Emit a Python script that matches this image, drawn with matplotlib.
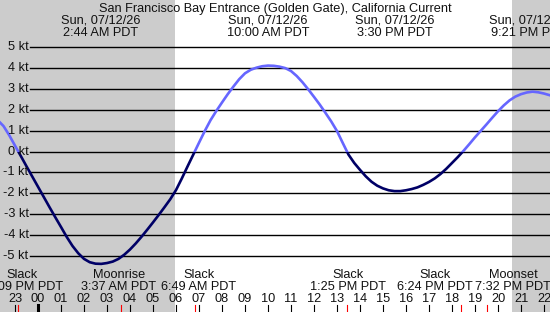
import matplotlib
matplotlib.use("Agg")
import matplotlib.pyplot as plt
import matplotlib.transforms as mtransforms
from matplotlib.patches import Rectangle

# ---------------- data ----------------
title = "San Francisco Bay Entrance (Golden Gate), California Current"
# hours relative to midnight Sun 07/12/26, every 15 minutes
times = [-2.0, -1.75, -1.5, -1.25, -1.0, -0.75, -0.5, -0.25,
         0.0, 0.25, 0.5, 0.75, 1.0, 1.25, 1.5, 1.75, 2.0, 2.25, 2.5, 2.75,
         3.0, 3.25, 3.5, 3.75, 4.0, 4.25, 4.5, 4.75, 5.0, 5.25, 5.5, 5.75,
         6.0, 6.25, 6.5, 6.75, 7.0, 7.25, 7.5, 7.75, 8.0, 8.25, 8.5, 8.75,
         9.0, 9.25, 9.5, 9.75, 10.0, 10.25, 10.5, 10.75, 11.0, 11.25, 11.5, 11.75,
         12.0, 12.25, 12.5, 12.75, 13.0, 13.25, 13.5, 13.75, 14.0, 14.25, 14.5, 14.75,
         15.0, 15.25, 15.5, 15.75, 16.0, 16.25, 16.5, 16.75, 17.0, 17.25, 17.5, 17.75,
         18.0, 18.25, 18.5, 18.75, 19.0, 19.25, 19.5, 19.75, 20.0, 20.25, 20.5, 20.75,
         21.0, 21.25, 21.5, 21.75, 22.0, 22.25, 22.5]
current_kt = [1.75, 1.50, 1.22, 0.78, 0.28, -0.21, -0.71, -1.20,
              -1.69, -2.18, -2.67, -3.15, -3.62, -4.10, -4.53, -4.88, -5.15, -5.31, -5.38, -5.39,
              -5.35, -5.28, -5.15, -4.95, -4.70, -4.41, -4.09, -3.75, -3.40, -3.04, -2.67, -2.29,
              -1.85, -1.30, -0.72, -0.15, 0.42, 0.98, 1.50, 1.94, 2.35, 2.75, 3.12, 3.47,
              3.75, 3.92, 4.02, 4.09, 4.12, 4.11, 4.07, 4.00, 3.86, 3.62, 3.32, 2.98,
              2.62, 2.25, 1.85, 1.44, 0.98, 0.41, -0.15, -0.55, -0.88, -1.19, -1.45, -1.64,
              -1.77, -1.86, -1.90, -1.90, -1.86, -1.80, -1.72, -1.60, -1.46, -1.29, -1.08, -0.83,
              -0.55, -0.27, 0.03, 0.35, 0.68, 0.99, 1.30, 1.62, 1.93, 2.21, 2.45, 2.63,
              2.75, 2.83, 2.87, 2.84, 2.78, 2.70, 2.60]

extreme_times = [2.733, 10.0, 15.5, 21.35]
extreme_labels = ["Sun, 07/12/26\n2:44 AM PDT", "Sun, 07/12/26\n10:00 AM PDT",
                  "Sun, 07/12/26\n3:30 PM PDT", "Sun, 07/12/26\n9:21 PM PDT"]

event_times = [-0.85, 3.617, 6.817, 13.417, 18.4, 19.533]
event_names = ["Slack", "Moonrise", "Slack", "Slack", "Slack", "Moonset"]
event_clock = ["11:09 PM PDT", "3:37 AM PDT", "6:49 AM PDT", "1:25 PM PDT",
               "6:24 PM PDT", "7:32 PM PDT"]

sunrise = 5.957
sunset = 20.61
hours = list(range(-1, 23))
hour_labels = ["%02d" % (h % 24) for h in hours]
kt_levels = [5, 4, 3, 2, 1, 0, -1, -2, -3, -4, -5]
kt_labels = ["%d kt" % v for v in kt_levels]

# ---------------- layout / style ----------------
W, H = 550, 312
px_per_hr = 23.0
x_midnight = 38.0
y_zero = 151.5
px_per_kt = 20.85
event_label_dx = [4, -2.5, 4, 1, -26, 26]   # label shifts (px) to avoid overlap
FLOOD = "#6666ff"
EBB = "#000066"
SHADE = "#cccccc"
TXT = "#111111"
FS = 9.2
plt.rcParams['font.family'] = ['Liberation Sans', 'DejaVu Sans']

fig = plt.figure(figsize=(W / 100, H / 100), dpi=100)
ax = fig.add_axes([0, 0, 1, 1])
ax.set_axis_off()
ax.set_xlim(-x_midnight / px_per_hr, (W - x_midnight) / px_per_hr)
ax.set_ylim((y_zero - H) / px_per_kt, y_zero / px_per_kt)

xl = ax.get_xlim()
ax.axvspan(xl[0] - 1, sunrise, color=SHADE, lw=0, zorder=0)
ax.axvspan(sunset, xl[1] + 1, color=SHADE, lw=0, zorder=0)

for v in kt_levels:
    ax.axhline(v, xmin=29.5 / W, xmax=1, color="black", lw=1.0, zorder=1)

l1, = ax.plot(times, current_kt, color=FLOOD, lw=1.9, zorder=3, solid_capstyle='butt')
l2, = ax.plot(times, current_kt, color=EBB, lw=1.9, zorder=3, solid_capstyle='butt')
l1.set_clip_path(Rectangle((-10, 0), 50, 50, transform=ax.transData))
l2.set_clip_path(Rectangle((-10, -50), 50, 50, transform=ax.transData))

def ypix(p):
    return 1 - p / H

# y labels
tr_y = mtransforms.blended_transform_factory(ax.transAxes, ax.transData)
for v, lab in zip(kt_levels, kt_labels):
    ax.text(28.5 / W, v, lab, transform=tr_y, ha="right", va="center",
            fontsize=FS, color=TXT)

# title
fig.text(0.5, ypix(11.7), title, ha="center", va="baseline", fontsize=FS, color=TXT)

tr_x = mtransforms.blended_transform_factory(ax.transData, fig.transFigure)
for t, lab in zip(extreme_times, extreme_labels):
    l_a, l_b = lab.split("\n")
    ax.text(t, ypix(23.5), l_a, transform=tr_x, ha="center", va="baseline",
            fontsize=FS, color=TXT, clip_on=False)
    ax.text(t, ypix(35.5), l_b, transform=tr_x, ha="center", va="baseline",
            fontsize=FS, color=TXT, clip_on=False)

for t, name, clock, dx in zip(event_times, event_names, event_clock, event_label_dx):
    trd = mtransforms.offset_copy(tr_x, fig=fig, x=dx, y=0, units="dots")
    ax.text(t, ypix(277.7), name, transform=trd, ha="center", va="baseline",
            fontsize=FS, color=TXT)
    ax.text(t, ypix(290.0), clock, transform=trd, ha="center", va="baseline",
            fontsize=FS, color=TXT)

for h, lab in zip(hours, hour_labels):
    ax.text(h, ypix(301.7), lab, transform=tr_x, ha="center", va="baseline",
            fontsize=FS, color=TXT)
    ax.axvline(h, ymin=0, ymax=7 / H, color="black",
               lw=2.2 if h % 24 == 0 else 0.8, zorder=4)

for t in event_times:
    ax.axvline(t, ymin=0, ymax=7 / H, color="red", lw=0.8, zorder=4)

fig.savefig("out.png", dpi=100)
